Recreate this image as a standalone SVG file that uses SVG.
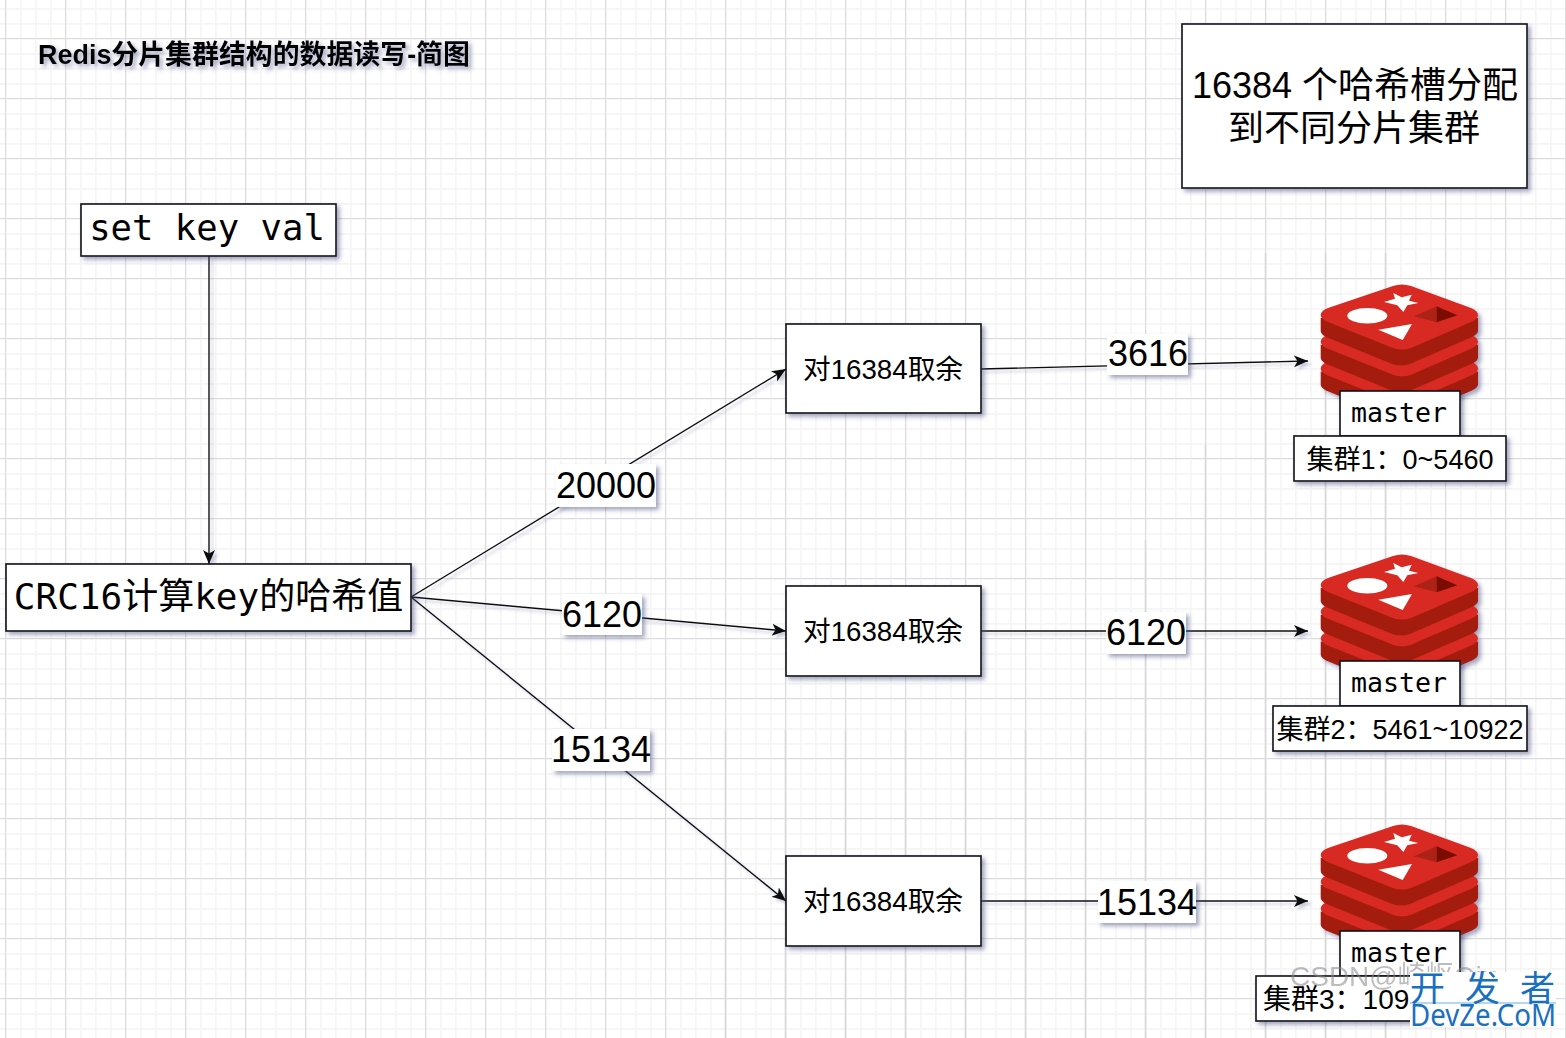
<svg xmlns="http://www.w3.org/2000/svg" xmlns:xlink="http://www.w3.org/1999/xlink" width="1566" height="1038" viewBox="0 0 1566 1038">
<style>
.box{fill:#fff;stroke:#111;stroke-width:1.6;filter:url(#sh)}
.lbl{fill:#fff;filter:url(#sh)}
.cn{fill:none;stroke:#111;stroke-width:1.4;marker-end:url(#arr)}
text{fill:#000;text-anchor:middle;font-family:"Liberation Sans","Noto Sans CJK SC",sans-serif}
.mono{font-family:"DejaVu Sans Mono","Noto Sans CJK SC",monospace}
.mid{font-size:27.7px}
.num{font-size:36px}
.cl{font-size:27px}
.ms{font-size:26.6px}
.th{stroke:#d9d9dc;stroke-width:1.7;fill:none}
</style>
<defs>
<filter id="sh" x="-20%" y="-20%" width="150%" height="160%"><feDropShadow dx="3" dy="3" stdDeviation="2.2" flood-color="#4a5080" flood-opacity="0.5"/></filter>
<filter id="shl" filterUnits="userSpaceOnUse" x="0" y="0" width="1566" height="1038"><feDropShadow dx="3" dy="3" stdDeviation="1.6" flood-color="#4a5080" flood-opacity="0.3"/></filter>
<marker id="arr" markerUnits="userSpaceOnUse" markerWidth="16" markerHeight="14" refX="14" refY="7" orient="auto"><path d="M0,1 L14,7 L0,13 L3.5,7 Z" fill="#111"/></marker>
<pattern id="gm" width="15" height="15" patternUnits="userSpaceOnUse" patternTransform="translate(5 8)"><path d="M0,0H15V1.7H0ZM0,0H1.7V15H0Z" fill="#f5f5f6"/></pattern>
<pattern id="gM" width="60" height="60" patternUnits="userSpaceOnUse" patternTransform="translate(5 38)"><path d="M0,0H60V1.1H0ZM0,0H1.1V60H0Z" fill="#dcdcde"/></pattern>
<g id="layer">
<path d="M1320.7,318V331Q1320.7,334 1326,337L1392,364Q1401,367 1410,364L1472,337Q1478,334 1478,331V318Z" fill="#a41e11"/>
<path d="M1320.7,315Q1320.7,311 1328,308L1393,286Q1402,283 1411,286L1471,308Q1478,311 1478,315Q1478,319 1471,322L1411,348Q1402,351 1393,348L1328,322Q1320.7,319 1320.7,315Z" fill="#d82c20"/>
</g>
<g id="redis">
<use href="#layer" y="53.4"/>
<use href="#layer" y="26.7"/>
<use href="#layer"/>
<path d="M1384,302L1395,298.7L1393.3,293L1401.7,297.3L1411.7,294.7L1409,300.7L1418.3,303L1407.3,305.3L1403.3,312L1397.3,305.3Z" fill="#fff"/>
<ellipse cx="1367.3" cy="315.7" rx="20" ry="7.7" fill="#fff"/>
<path d="M1378.3,329.7L1412,324L1402.7,340Z" fill="#fff"/>
<path d="M1414,316.3L1436.7,306.3V322.3Z" fill="#ad2115"/>
<path d="M1436.7,306.3L1457.3,315.3L1436.7,322.3Z" fill="#7a0c00"/>
</g>
</defs>
<g id="grid">
<rect width="1566" height="1038" fill="#fff"/>
<rect width="1566" height="1038" fill="url(#gm)"/>
<rect width="1566" height="1038" fill="url(#gM)"/>
<path class="th" d="M725.5,730V1038M785.5,730V1038M845.5,730V1038M905.5,730V1038M965.5,730V1038M1025.5,730V1038M1085.5,730V1038M1145.5,540V1038M1205.5,445V1038M1265.5,253V1038M1325.5,253V1038M1385.5,253V1038"/>
</g>
<g id="title"><text x="254" y="63.5" font-size="26.9" font-weight="700" filter="url(#sh)">Redis分片集群结构的数据读写-简图</text></g>
<g id="connectors">
<g filter="url(#shl)">
<path class="cn" d="M209,256V564"/>
<path class="cn" d="M411,597L786,369"/>
<path class="cn" d="M411,597L786,631"/>
<path class="cn" d="M411,597L786,901"/>
<path class="cn" d="M981,369L1308,361"/>
<path class="cn" d="M981,631H1308"/>
<path class="cn" d="M981,901H1308"/>
</g>
<g id="l1"><rect class="lbl" x="556" y="464" width="100" height="43"/><text class="num" x="606" y="498">20000</text></g>
<g id="l2"><rect class="lbl" x="562" y="594" width="80" height="41"/><text class="num" x="602" y="627">6120</text></g>
<g id="l3"><rect class="lbl" x="552" y="729" width="98" height="42"/><text class="num" x="601" y="762">15134</text></g>
<g id="l4"><rect class="lbl" x="1107" y="334" width="81" height="41"/><text class="num" x="1148" y="366">3616</text></g>
<g id="l5"><rect class="lbl" x="1106" y="612" width="80" height="42"/><text class="num" x="1146" y="645">6120</text></g>
<g id="l6"><rect class="lbl" x="1098" y="881" width="98" height="42"/><text class="num" x="1147" y="915">15134</text></g>
</g>
<g id="note"><rect class="box" x="1182" y="24" width="345" height="164"/><text x="1355" y="98" font-size="36">16384 个哈希槽分配</text><text x="1354" y="141" font-size="36">到不同分片集群</text></g>
<g id="setkey"><rect class="box" x="81" y="204" width="255" height="52"/><text class="mono" x="207" y="240" font-size="35.6">set key val</text></g>
<g id="crc"><rect class="box" x="6" y="564" width="405" height="67"/><text class="mono" x="208.5" y="609" font-size="36">CRC16计算key的哈希值</text></g>
<g id="mod1"><rect class="box" x="786" y="324" width="195" height="89"/><text class="mid" x="883" y="379">对16384取余</text></g>
<g id="mod2"><rect class="box" x="786" y="586" width="195" height="90"/><text class="mid" x="883" y="641">对16384取余</text></g>
<g id="mod3"><rect class="box" x="786" y="856" width="195" height="90"/><text class="mid" x="883" y="911">对16384取余</text></g>
<g id="redis1"><use href="#redis" filter="url(#sh)"/><rect class="box" x="1340" y="391" width="120" height="45"/><text class="mono ms" x="1399" y="421.5">master</text></g>
<g id="redis2"><use href="#redis" y="270" filter="url(#sh)"/><rect class="box" x="1340" y="661" width="120" height="45"/><text class="mono ms" x="1399" y="691.5">master</text></g>
<g id="redis3"><use href="#redis" y="540" filter="url(#sh)"/><rect class="box" x="1340" y="931" width="120" height="45"/><text class="mono ms" x="1399" y="961.5">master</text></g>
<g id="c1"><rect class="box" x="1294" y="436" width="212" height="45"/><text class="cl" x="1400" y="468.5">集群1：0~5460</text></g>
<g id="c2"><rect class="box" x="1273" y="706" width="254" height="45"/><text class="cl" x="1400" y="738.5">集群2：5461~10922</text></g>
<g id="c3"><rect class="box" x="1256" y="976" width="288" height="45"/><text x="1263" y="1009" font-size="28" style="text-anchor:start">集群3：109</text></g>
<g id="watermark">
<text x="1290" y="986" font-size="28" style="text-anchor:start;fill:#888;opacity:.55">CSDN@崎岖Qiu</text>
<rect x="1410" y="972" width="146" height="55" fill="#fff"/>
<path d="M1410,1003H1556" stroke="#6bb0dc" stroke-width="1"/>
<text x="1410 1465 1520" y="1001" font-size="35" style="text-anchor:start;fill:#1a70c0">开发者</text>
<text x="1410" y="1026" font-size="30" textLength="146" lengthAdjust="spacingAndGlyphs" style="text-anchor:start;fill:#1a70c0;font-family:'Noto Sans',sans-serif">DevZe.CoM</text>
</g>
</svg>
